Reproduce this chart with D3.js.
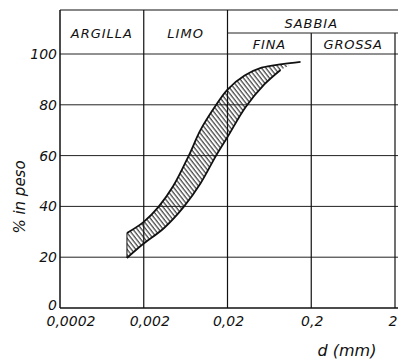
<!DOCTYPE html>
<html>
<head>
<meta charset="utf-8">
<script src="https://cdn.jsdelivr.net/npm/d3@7"></script>
<style>
  body { margin: 0; background: #fff; }
  text { font-family: "DejaVu Sans", sans-serif; font-style: italic; fill: #111; }
</style>
</head>
<body>
<script>
// grain size band (d in mm, % passing)
const upperD = [0.00126, 0.002, 0.003, 0.0045, 0.0069, 0.0095, 0.014, 0.02, 0.032, 0.051, 0.09, 0.149];
const upperP = [29.5, 33.9, 39.8, 48, 60, 70, 79, 86, 91.5, 94.6, 96, 96.9];
const lowerD = [0.00126, 0.0019, 0.0035, 0.006, 0.0095, 0.0145, 0.02, 0.0328, 0.055, 0.086, 0.11];
const lowerP = [19.7, 24.8, 31.5, 39.8, 49, 59.8, 67.3, 79, 88, 93.7, 95.5];

const xTicks = [0.0002, 0.002, 0.02, 0.2, 2];
const xTickLabels = ['0,0002', '0,002', '0,02', '0,2', '2'];
const yTicks = [0, 20, 40, 60, 80, 100];

const classes = ['ARGILLA', 'LIMO', 'SABBIA'];
const classBounds = [[0.0002, 0.002], [0.002, 0.02], [0.02, 2]];
const sandSub = ['FINA', 'GROSSA'];
const sandBounds = [[0.02, 0.2], [0.2, 2]];

const W = 398, H = 360;
const topY = 10, subY = 33;

const svg = d3.select('body').append('svg')
  .attr('width', W)
  .attr('height', H);

const x = d3.scaleLog().domain([0.0002, 2]).range([60, 395]);
const y = d3.scaleLinear().domain([0, 100]).range([308, 54]);

// hatch pattern
const pat = svg.append('defs').append('pattern')
  .attr('id', 'hatch')
  .attr('patternUnits', 'userSpaceOnUse')
  .attr('width', 3.4)
  .attr('height', 10)
  .attr('patternTransform', 'rotate(-38)');
pat.append('line')
  .attr('x1', 1).attr('y1', 0).attr('x2', 1).attr('y2', 10)
  .attr('stroke', '#111').attr('stroke-width', 1);

const g = svg.append('g');

// horizontal grid
g.selectAll('.hgrid')
  .data(yTicks.filter(d => d > 0))
  .enter().append('line')
  .attr('x1', x(0.0002)).attr('x2', W)
  .attr('y1', d => y(d)).attr('y2', d => y(d))
  .attr('stroke', '#222').attr('stroke-width', 1);

// vertical grid
g.selectAll('.vgrid')
  .data(xTicks)
  .enter().append('line')
  .attr('x1', d => x(d)).attr('x2', d => x(d))
  .attr('y1', d => (d >= 0.2 ? subY : topY))
  .attr('y2', y(0))
  .attr('stroke', '#111')
  .attr('stroke-width', (d, i) => (i === 0 ? 1.5 : 1.2));

// frame top, sub header line, bottom
g.append('line').attr('x1', x(0.0002)).attr('x2', W).attr('y1', topY).attr('y2', topY)
  .attr('stroke', '#111').attr('stroke-width', 1.2);
g.append('line').attr('x1', x(0.02)).attr('x2', W).attr('y1', subY).attr('y2', subY)
  .attr('stroke', '#222').attr('stroke-width', 1);
g.append('line').attr('x1', x(0.0002)).attr('x2', W).attr('y1', y(0)).attr('y2', y(0))
  .attr('stroke', '#111').attr('stroke-width', 1.3);

// class headings
g.selectAll('.cls')
  .data(classes)
  .enter().append('text')
  .attr('x', (d, i) => (x(classBounds[i][0]) + x(classBounds[i][1])) / 2)
  .attr('y', (d, i) => (i === 2 ? 28 : 38))
  .attr('text-anchor', 'middle')
  .attr('font-size', 13)
  .attr('letter-spacing', 1)
  .text(d => d);

g.selectAll('.subcls')
  .data(sandSub)
  .enter().append('text')
  .attr('x', (d, i) => (x(sandBounds[i][0]) + x(sandBounds[i][1])) / 2)
  .attr('y', 49)
  .attr('text-anchor', 'middle')
  .attr('font-size', 13)
  .attr('letter-spacing', 0.8)
  .text(d => d);

// band
const pt = (d, p) => [x(d), y(p)];
const upper = upperD.map((d, i) => pt(d, upperP[i]));
const lower = lowerD.map((d, i) => pt(d, lowerP[i]));
const lineGen = d3.line().curve(d3.curveCatmullRom.alpha(0.5));

const lastLowerX = lower[lower.length - 1][0];
const upperClip = upper.filter(p => p[0] <= lastLowerX + 0.5);
const areaPath = lineGen(upperClip) + 'L' + lineGen(lower.slice().reverse()).slice(1) + 'Z';

g.append('path')
  .attr('d', areaPath)
  .attr('fill', 'url(#hatch)')
  .attr('stroke', 'none');

g.append('path')
  .attr('d', lineGen(upper))
  .attr('fill', 'none').attr('stroke', '#111').attr('stroke-width', 1.8);
g.append('path')
  .attr('d', lineGen(lower.slice(0, -1)))
  .attr('fill', 'none').attr('stroke', '#111').attr('stroke-width', 1.8);
g.append('line')
  .attr('x1', upper[0][0]).attr('y1', upper[0][1])
  .attr('x2', lower[0][0]).attr('y2', lower[0][1])
  .attr('stroke', '#111').attr('stroke-width', 1);

// y tick labels
g.selectAll('.ylab')
  .data(yTicks)
  .enter().append('text')
  .attr('x', 57)
  .attr('y', d => (d === 0 ? y(d) + 2 : y(d) + 5))
  .attr('text-anchor', 'end')
  .attr('font-size', 14)
  .text(d => d);

// x tick labels
g.selectAll('.xlab')
  .data(xTicks)
  .enter().append('text')
  .attr('x', (d, i) => x(d) + (i === 0 ? 11 : i === 1 ? 6 : i === 4 ? -2 : 1))
  .attr('y', 326)
  .attr('text-anchor', 'middle')
  .attr('font-size', 14)
  .text((d, i) => xTickLabels[i]);

// axis titles
g.append('text')
  .attr('transform', 'translate(25,197) rotate(-90)')
  .attr('text-anchor', 'middle')
  .attr('font-size', 15)
  .text('% in peso');

g.append('text')
  .attr('x', 347)
  .attr('y', 356)
  .attr('text-anchor', 'middle')
  .attr('font-size', 16)
  .text('d (mm)');
</script>
</body>
</html>
